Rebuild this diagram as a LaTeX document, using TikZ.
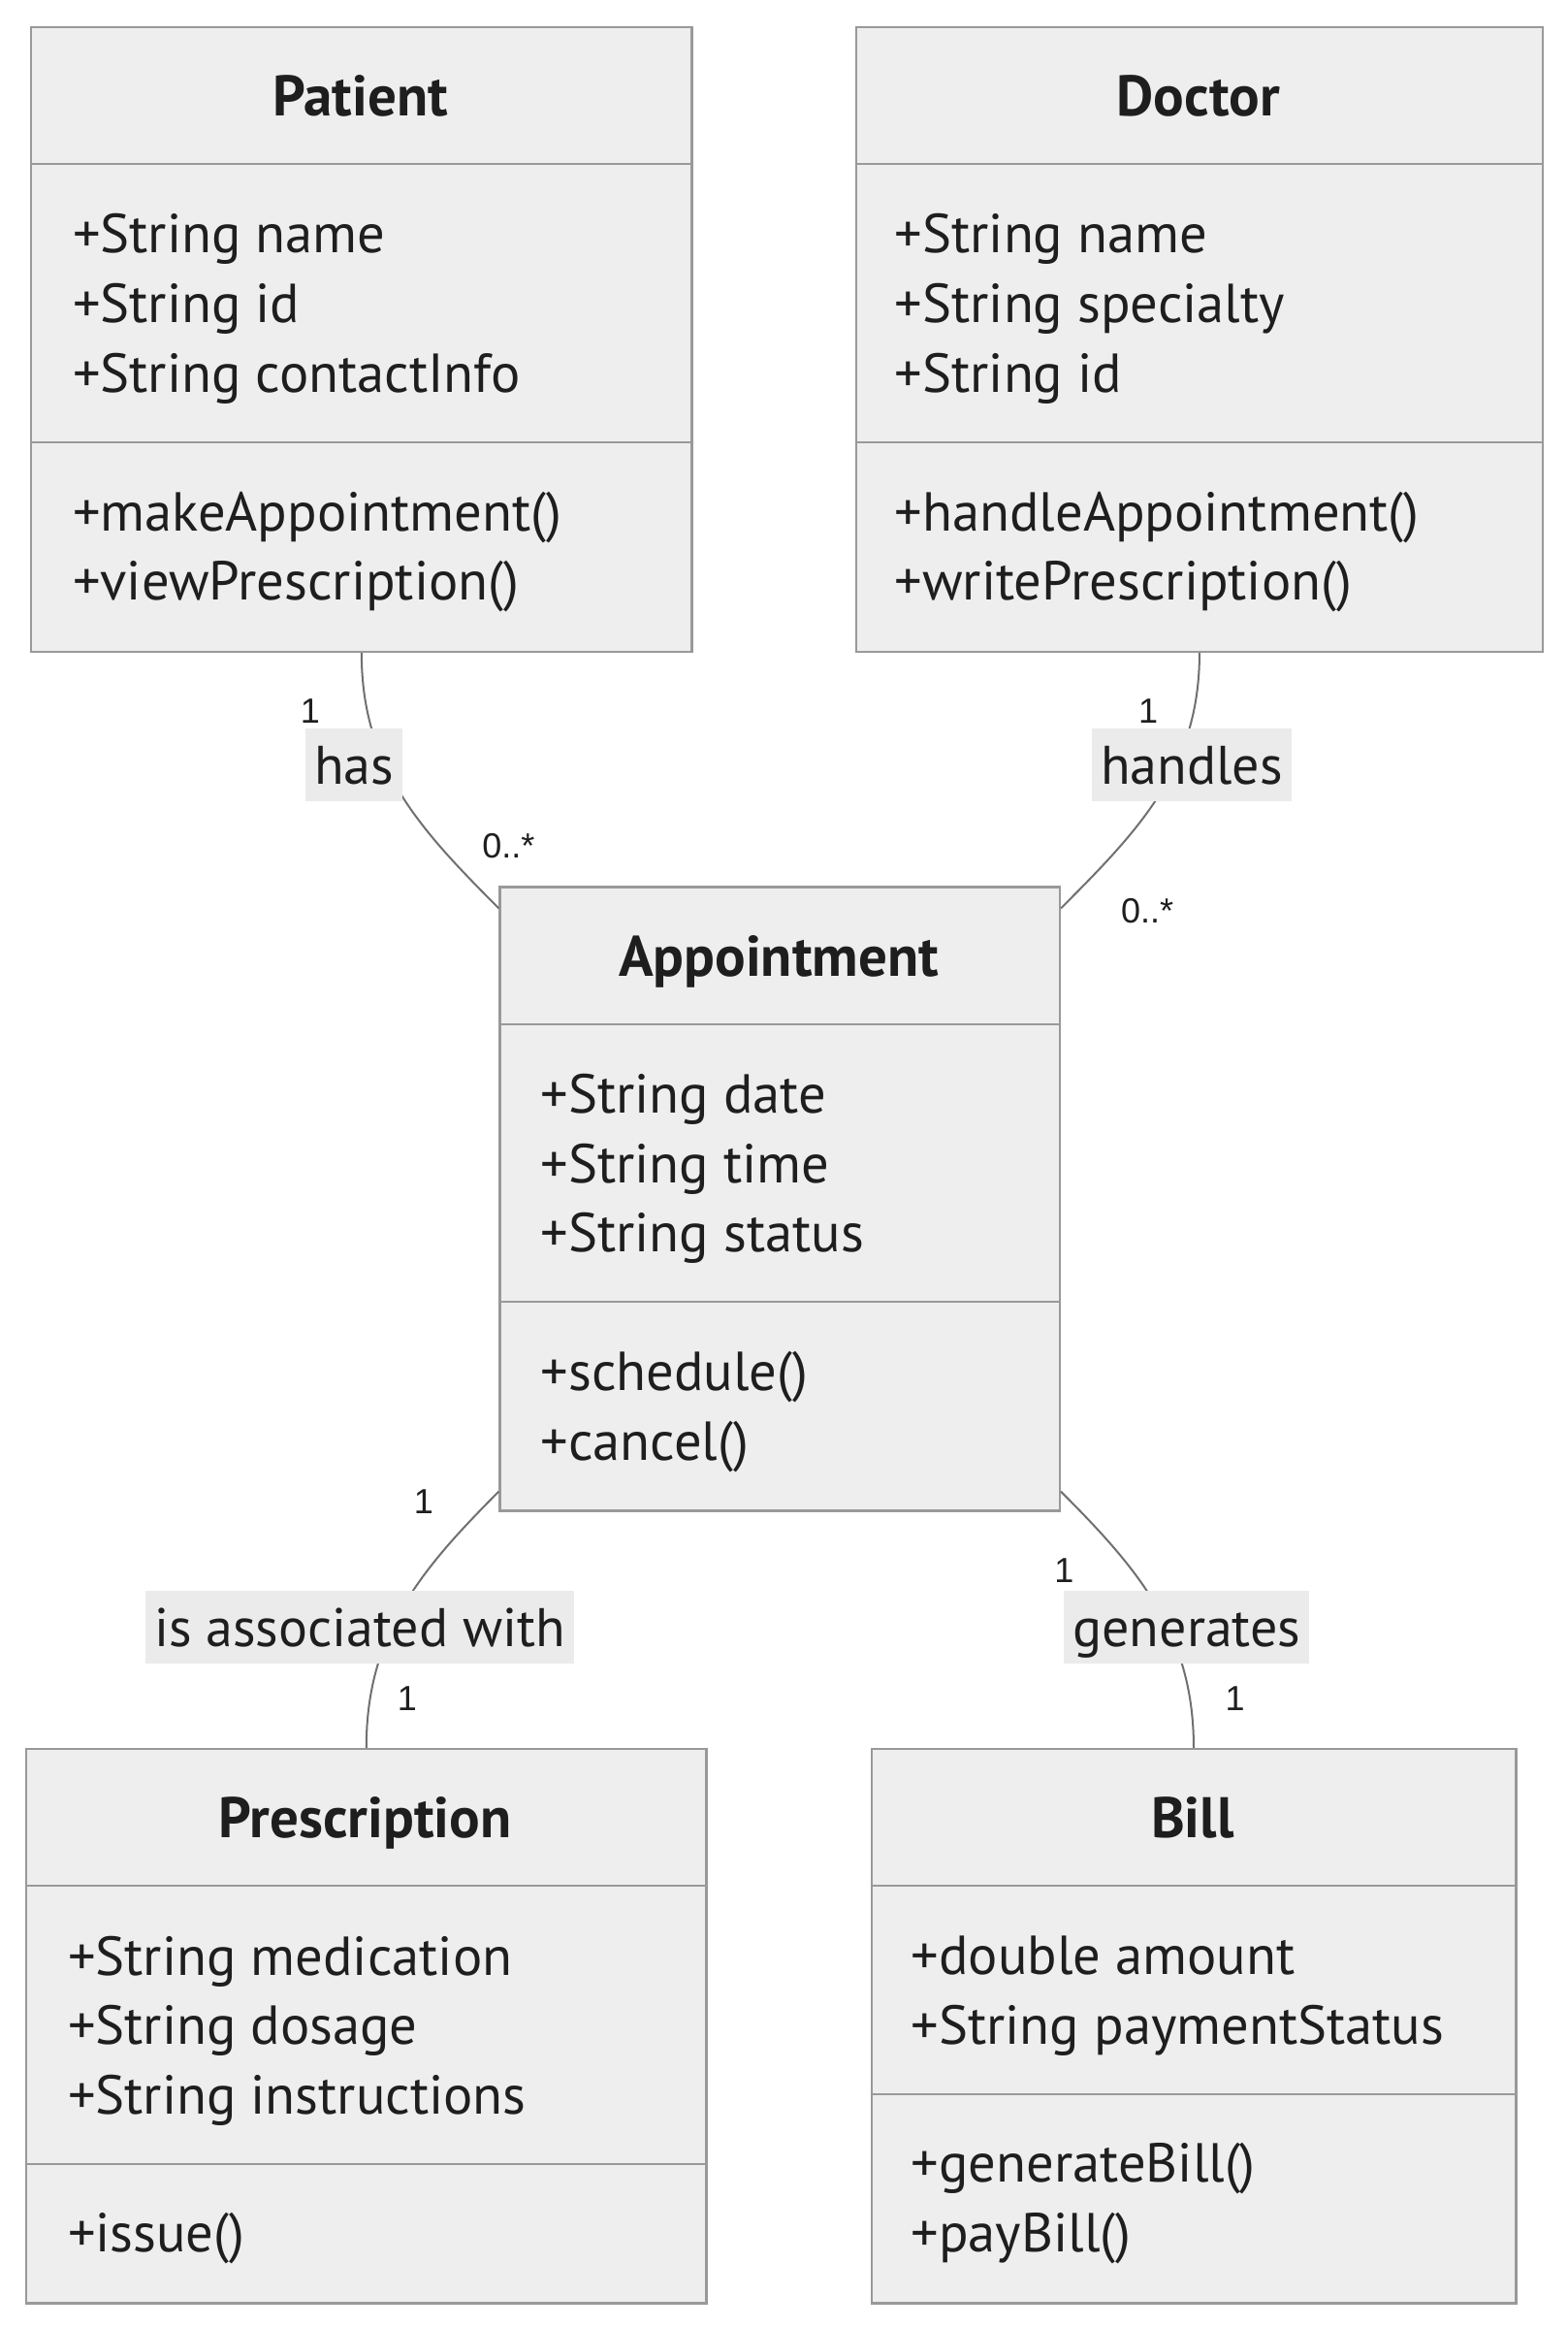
\documentclass[tikz,border=0pt]{standalone}
\usepackage{fontspec}
\setmainfont{PT Sans}
\newfontfamily\multfont{Liberation Sans}
\usetikzlibrary{calc}
\definecolor{boxfill}{HTML}{EEEEEE}
\definecolor{boxdraw}{HTML}{999999}
\definecolor{linecol}{HTML}{707070}
\definecolor{txt}{HTML}{1E1E1E}
\definecolor{lblbg}{HTML}{EBEBEB}
\begin{document}
\begin{tikzpicture}[x=0.4975pt,y=-0.4975pt,
  classbox/.style={draw=boxdraw, fill=boxfill, line width=1.2pt, anchor=north west, inner sep=0pt},
  divider/.style={draw=boxdraw, line width=1.2pt},
  classtitle/.style={font=\fontsize{29.5}{36}\selectfont\bfseries, text=txt, inner sep=0pt, text height=21pt, text depth=0pt},
  members/.style={font=\fontsize{28.3}{35.8}\selectfont, text=txt, align=left, anchor=west, inner sep=0pt},
  assoc/.style={draw=linecol, line width=1pt},
  edgelabel/.style={fill=lblbg, font=\fontsize{28}{36}\selectfont, text=txt, inner xsep=4.5pt, inner ysep=0pt, text height=28.5pt, text depth=9pt},
  mult/.style={font=\multfont\fontsize{18}{20}\selectfont, text=txt, inner sep=0pt}
]
\useasboundingbox (0,0) rectangle (1624.12,2412.06);
\fill[white] (0,0) rectangle (1624.12,2412.06);

% class boxes
\node[classbox, minimum width=340.8pt, minimum height=321.9pt] (patient) at (31,27) {};
\node[classbox, minimum width=354.2pt, minimum height=321.9pt] (doctor) at (886,27) {};
\node[classbox, minimum width=288.6pt, minimum height=321.4pt] (appt) at (517,918) {};
\node[classbox, minimum width=350.7pt, minimum height=285.6pt] (presc) at (26,1811) {};
\node[classbox, minimum width=332.3pt, minimum height=285.6pt] (bill) at (902,1811) {};

% dividers
\draw[divider] (31,170) -- (716,170);
\draw[divider] (31,458) -- (716,458);
\draw[divider] (886,170) -- (1598,170);
\draw[divider] (886,458) -- (1598,458);
\draw[divider] (517,1061) -- (1097,1061);
\draw[divider] (517,1349) -- (1097,1349);
\draw[divider] (26,1954) -- (731,1954);
\draw[divider] (26,2242) -- (731,2242);
\draw[divider] (902,1954) -- (1570,1954);
\draw[divider] (902,2170) -- (1570,2170);

% texts
\node[classtitle] (patientT) at (373.5,98.5) {Patient};
\node[members] (patientA) at (75,320) {+String name\\+String id\\+String contactInfo};
\node[members] (patientM) at (75,572) {+makeAppointment()\\+viewPrescription()};

\node[classtitle] (doctorT) at (1242,98.5) {Doctor};
\node[members] (doctorA) at (927,320) {+String name\\+String specialty\\+String id};
\node[members] (doctorM) at (927,572) {+handleAppointment()\\+writePrescription()};

\node[classtitle] (apptT) at (807,990) {Appointment};
\node[members] (apptA) at (560,1211) {+String date\\+String time\\+String status};
\node[members] (apptM) at (560,1463) {+schedule()\\+cancel()};

\node[classtitle] (prescT) at (378.5,1883) {Prescription};
\node[members] (prescA) at (70,2104) {+String medication\\+String dosage\\+String instructions};
\node[members] (prescM) at (70,2319) {+issue()};

\node[classtitle] (billT) at (1236,1883) {Bill};
\node[members] (billA) at (944,2068) {+double amount\\+String paymentStatus};
\node[members] (billM) at (944,2283) {+generateBill()\\+payBill()};

% connectors
\draw[assoc] (patient.south) to[out=-90,in=135] ([yshift=-11.5pt]appt.north west);
\draw[assoc] (doctor.south) to[out=-90,in=45] ([yshift=-11.5pt]appt.north east);
\draw[assoc] ([yshift=10.5pt]appt.south west) to[out=-135,in=90] (presc.north);
\draw[assoc] ([yshift=10.5pt]appt.south east) to[out=-45,in=90] (bill.north);

% edge labels
\node[edgelabel] (lhas) at (367,792.5) {has};
\node[edgelabel] (lhandles) at (1235,792.5) {handles};
\node[edgelabel] (lassoc) at (373,1686) {is associated with};
\node[edgelabel] (lgen) at (1230,1686) {generates};

% multiplicities
\node[mult] (m1) at (321.5,736.5) {1};
\node[mult] (m2) at (527,876) {0..*};
\node[mult] (m3) at (1190,736.5) {1};
\node[mult] (m4) at (1189,944) {0..*};
\node[mult] (m5) at (439,1556) {1};
\node[mult] (m6) at (422,1760) {1};
\node[mult] (m7) at (1103,1627) {1};
\node[mult] (m8) at (1280,1760) {1};
\end{tikzpicture}
\end{document}
